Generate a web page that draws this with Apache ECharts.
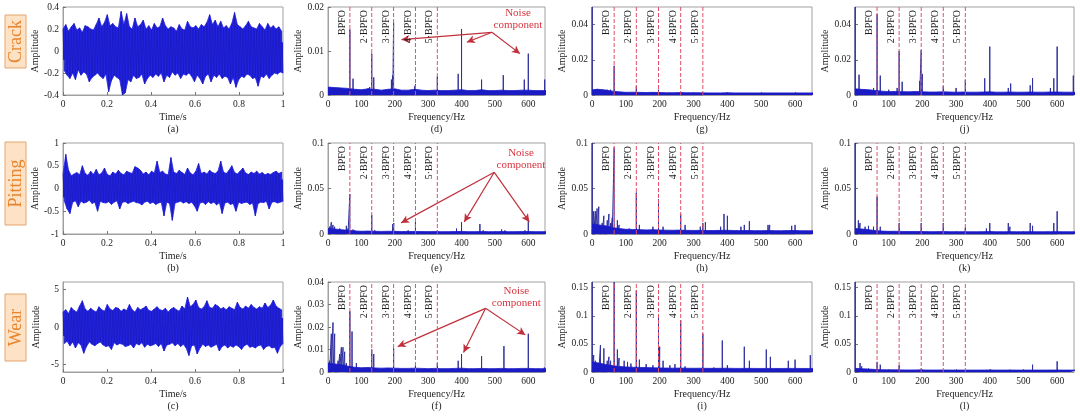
<!DOCTYPE html>
<html>
<head>
<meta charset="utf-8">
<script src="https://cdn.jsdelivr.net/npm/echarts@6.0.0/dist/echarts.min.js"></script>
<style>
html, body { margin: 0; padding: 0; background: #fff; }
#main { width: 1080px; height: 417px; }
</style>
</head>
<body>
<div id="main"></div>
<script>
// ---------- values ----------
var rowNames = ['Crack', 'Pitting', 'Wear'];
var captions = [['(a)', '(d)', '(g)', '(j)'], ['(b)', '(e)', '(h)', '(k)'], ['(c)', '(f)', '(i)', '(l)']];
var bpfo = [65.5, 131, 196.5, 262, 327.5];
var bpfoNames = ['BPFO', '2·BPFO', '3·BPFO', '4·BPFO', '5·BPFO'];
var timeTicks = [0, 0.2, 0.4, 0.6, 0.8, 1];
var freqTicks = [0, 100, 200, 300, 400, 500, 600];
var floorStep = 20; // Hz between noise floor samples

// time signals, alternating upper / lower peaks over 0..1 s
var sigCrack = [
 .20,-.18,.24,-.22,.18,-.25,.22,-.20,.25,-.26,.19,-.17,.21,-.22,.17,-.19,.23,-.21,.22,-.28,
 .20,-.24,.19,-.22,.24,-.20,.30,-.23,.22,-.25,.26,-.21,.33,-.37,.23,-.27,.25,-.22,.22,-.24,
 .21,-.26,.36,-.40,.24,-.38,.34,-.26,.22,-.28,.20,-.22,.30,-.25,.22,-.24,.24,-.21,.28,-.30,
 .20,-.25,.23,-.22,.19,-.24,.25,-.21,.21,-.23,.22,-.20,.30,-.28,.23,-.22,.20,-.24,.22,-.19,
 .21,-.22,.18,-.20,.24,-.25,.20,-.21,.19,-.22,.27,-.20,.22,-.23,.21,-.28,.23,-.22,.20,-.25,
 .24,-.30,.22,-.23,.26,-.21,.33,-.28,.24,-.22,.28,-.24,.22,-.21,.27,-.25,.21,-.23,.23,-.24,
 .20,-.30,.25,-.24,.35,-.33,.24,-.26,.22,-.23,.20,-.24,.23,-.21,.27,-.22,.22,-.25,.21,-.24,
 .20,-.32,.25,-.23,.22,-.24,.19,-.21,.25,-.25,.21,-.22,.23,-.20,.20,-.21,.22,-.19,.18,-.20
];
var sigPitting = [
 .30,-.28,.75,-.45,.40,-.55,.28,-.30,.32,-.27,.35,-.40,.30,-.28,.50,-.32,.33,-.30,.29,-.26,
 .38,-.33,.31,-.30,.42,-.50,.30,-.28,.34,-.31,.45,-.32,.31,-.29,.28,-.35,.36,-.30,.32,-.27,
 .40,-.45,.33,-.30,.30,-.29,.38,-.33,.35,-.30,.33,-.28,.48,-.31,.45,-.32,.40,-.36,.32,-.30,
 .36,-.28,.30,-.33,.38,-.30,.34,-.35,.60,-.32,.35,-.30,.38,-.60,.32,-.30,.30,-.33,.68,-.70,
 .36,-.32,.33,-.30,.40,-.28,.35,-.32,.31,-.29,.45,-.33,.34,-.30,.30,-.38,.38,-.50,.55,-.32,
 .33,-.30,.36,-.35,.32,-.29,.40,-.33,.35,-.30,.33,-.36,.38,-.31,.60,-.55,.36,-.32,.33,-.30,
 .40,-.35,.50,-.33,.35,-.50,.32,-.30,.38,-.33,.45,-.31,.34,-.30,.31,-.35,.36,-.32,.33,-.60,
 .38,-.33,.32,-.30,.35,-.31,.30,-.28,.33,-.45,.31,-.30,.35,-.29,.38,-.32,.33,-.30,.36,-.28
];
var sigWear = [
 2.0,-2.2,2.3,-1.9,1.8,-2.5,2.6,-2.0,2.2,-2.8,2.0,-2.1,2.8,-2.4,3.5,-3.5,2.4,-2.6,2.1,-2.0,
 2.5,-2.3,2.2,-2.5,2.0,-2.2,2.7,-2.0,2.3,-2.4,2.1,-2.6,3.0,-2.5,2.4,-3.0,2.2,-2.1,2.6,-2.4,
 2.5,-2.2,2.1,-2.3,2.4,-2.6,2.2,-2.5,3.0,-2.3,2.3,-2.8,2.0,-2.2,2.6,-2.4,2.3,-2.1,2.5,-2.7,
 2.8,-2.3,2.2,-2.5,2.1,-2.4,2.4,-2.2,2.7,-2.6,2.3,-2.2,2.2,-3.2,2.5,-2.4,2.0,-2.3,2.4,-2.1,
 2.6,-2.5,2.3,-2.2,2.1,-2.6,2.8,-2.3,2.4,-2.8,4.0,-3.8,2.7,-2.5,3.0,-2.4,3.6,-3.6,2.6,-2.8,
 2.4,-2.3,2.7,-2.6,3.5,-2.4,2.6,-2.7,2.5,-2.5,3.0,-2.3,2.8,-3.2,2.4,-2.6,2.6,-2.4,2.3,-2.8,
 2.7,-2.5,2.5,-2.7,2.3,-2.4,3.3,-2.6,2.6,-3.0,2.4,-2.5,2.8,-2.3,2.5,-2.7,3.0,-2.6,2.6,-2.8,
 2.4,-2.5,2.7,-2.4,2.5,-3.0,3.2,-2.6,2.6,-2.5,2.9,-2.8,3.6,-2.7,2.8,-3.5,2.5,-2.6,2.3,-2.2
];

// spectra: noise floor (every 20 Hz from 0 to 660 Hz) and spectral lines [Hz, amplitude]
var floorD = [0.0018,0.0017,0.0016,0.0015,0.0013,0.0012,0.0014,0.0013,0.0011,0.0013,0.0014,0.0011,0.0011,0.0013,0.0011,0.0010,0.0011,
              0.0010,0.0010,0.0011,0.0012,0.0010,0.0010,0.0012,0.0010,0.0010,0.0011,0.0010,0.0010,0.0011,0.0011,0.0010,0.0010,0.0010];
var linesD = [[65.5,0.0149],[75,0.0037],[120,0.0015],[125,0.0018],[131,0.0094],[137,0.0040],[190,0.0035],[194,0.0045],[196.5,0.0163],
              [260,0.0020],[262,0.0025],[327.5,0.0042],[390,0.0048],[400,0.0150],[460,0.0035],[525,0.0045],[588,0.0035],[600,0.0094],[649,0.0035]];
var floorG = [0.0030,0.0032,0.0028,0.0022,0.0018,0.0015,0.0016,0.0015,0.0014,0.0015,0.0014,0.0013,0.0013,0.0014,0.0013,0.0013,0.0013,
              0.0012,0.0012,0.0012,0.0013,0.0012,0.0012,0.0012,0.0012,0.0012,0.0012,0.0012,0.0012,0.0012,0.0012,0.0012,0.0012,0.0012];
var linesG = [[0.5,0.05],[15,0.0035],[30,0.003],[45,0.003],[55,0.003],[65.5,0.0166],[131,0.005],[196.5,0.003],[262,0.0016],[327.5,0.0012]];
var floorJ = [0.0035,0.0032,0.0030,0.0026,0.0022,0.0019,0.0020,0.0019,0.0018,0.0020,0.0018,0.0017,0.0017,0.0018,0.0017,0.0016,0.0017,
              0.0016,0.0016,0.0017,0.0018,0.0016,0.0016,0.0017,0.0016,0.0016,0.0017,0.0016,0.0016,0.0017,0.0017,0.0016,0.0016,0.0016];
var linesJ = [[0.5,0.05],[12,0.0115],[55,0.004],[65.5,0.046],[75,0.011],[100,0.003],[125,0.004],[131,0.025],[140,0.0075],[192,0.008],
              [196.5,0.0255],[200,0.012],[262,0.005],[300,0.004],[327.5,0.0085],[385,0.0095],[400,0.0275],[455,0.004],[462,0.0065],
              [520,0.0055],[527,0.0095],[580,0.004],[590,0.0095],[600,0.0275],[648,0.011]];
var floorE = [0.0060,0.0055,0.0048,0.0040,0.0034,0.0030,0.0032,0.0030,0.0028,0.0030,0.0029,0.0027,0.0027,0.0028,0.0027,0.0026,0.0027,
              0.0026,0.0026,0.0027,0.0028,0.0026,0.0026,0.0027,0.0026,0.0026,0.0027,0.0026,0.0026,0.0027,0.0027,0.0026,0.0026,0.0026];
var linesE = [[5,0.008],[10,0.013],[15,0.010],[20,0.008],[35,0.006],[55,0.009],[60,0.006],[65.5,0.044],[75,0.005],[80,0.004],[131,0.021],
              [140,0.004],[194,0.011],[197,0.012],[240,0.004],[262,0.013],[327.5,0.004],[385,0.006],[400,0.013],[455,0.011],[465,0.004],
              [520,0.005],[530,0.004],[590,0.004],[600,0.014]];
var floorH = [0.0110,0.0100,0.0090,0.0072,0.0060,0.0052,0.0050,0.0048,0.0045,0.0047,0.0044,0.0042,0.0041,0.0043,0.0040,0.0039,0.0040,
              0.0038,0.0038,0.0040,0.0041,0.0038,0.0037,0.0039,0.0037,0.0037,0.0038,0.0037,0.0036,0.0038,0.0038,0.0036,0.0036,0.0036];
var linesH = [[0.5,0.1],[5,0.025],[10,0.025],[15,0.028],[20,0.03],[30,0.012],[35,0.02],[45,0.015],[50,0.022],[55,0.012],[60,0.018],
              [65.5,0.095],[75,0.015],[80,0.01],[110,0.006],[131,0.0455],[140,0.01],[180,0.008],[196.5,0.038],[210,0.008],[262,0.022],
              [275,0.01],[320,0.008],[327.5,0.012],[335,0.013],[380,0.008],[390,0.022],[400,0.02],[440,0.008],[450,0.01],[465,0.014],
              [520,0.01],[525,0.01],[590,0.009],[600,0.01]];
var floorK = [0.0060,0.0055,0.0048,0.0038,0.0032,0.0029,0.0030,0.0028,0.0027,0.0028,0.0027,0.0026,0.0026,0.0027,0.0026,0.0025,0.0026,
              0.0025,0.0025,0.0026,0.0027,0.0025,0.0025,0.0026,0.0025,0.0025,0.0026,0.0025,0.0025,0.0026,0.0026,0.0025,0.0025,0.0025];
var linesK = [[0.5,0.1],[10,0.015],[15,0.012],[30,0.008],[40,0.009],[55,0.008],[65.5,0.041],[75,0.008],[131,0.012],[196.5,0.012],
              [262,0.012],[327.5,0.007],[390,0.006],[400,0.012],[455,0.012],[460,0.008],[520,0.012],[527,0.009],[590,0.012],[600,0.025]];
var floorF = [0.0040,0.0036,0.0032,0.0026,0.0021,0.0019,0.0020,0.0018,0.0017,0.0018,0.0017,0.0016,0.0016,0.0017,0.0016,0.0015,0.0016,
              0.0015,0.0015,0.0016,0.0017,0.0015,0.0015,0.0016,0.0015,0.0015,0.0016,0.0015,0.0015,0.0016,0.0016,0.0015,0.0015,0.0015];
var linesF = [[5,0.005],[10,0.017],[15,0.022],[20,0.017],[30,0.005],[35,0.008],[40,0.011],[45,0.011],[50,0.009],[55,0.004],[65.5,0.027],
              [72,0.018],[85,0.004],[131,0.010],[137,0.008],[196.5,0.0105],[262,0.003],[327.5,0.004],[390,0.005],[400,0.008],[460,0.007],
              [527,0.0115],[600,0.017],[648,0.002]];
var floorI = [0.0180,0.0160,0.0135,0.0115,0.0100,0.0090,0.0085,0.0082,0.0078,0.0075,0.0072,0.0070,0.0068,0.0070,0.0067,0.0066,0.0067,
              0.0065,0.0065,0.0066,0.0067,0.0064,0.0064,0.0065,0.0064,0.0063,0.0064,0.0063,0.0063,0.0064,0.0064,0.0063,0.0063,0.0063];
var linesI = [[0.5,0.16],[5,0.03],[10,0.02],[20,0.015],[25,0.048],[35,0.042],[45,0.02],[50,0.027],[55,0.02],[65.5,0.16],[75,0.04],
              [80,0.025],[95,0.02],[105,0.018],[115,0.015],[131,0.145],[140,0.022],[160,0.014],[180,0.012],[196.5,0.098],[200,0.045],
              [210,0.02],[230,0.012],[245,0.014],[262,0.092],[275,0.01],[327.5,0.068],[360,0.008],[385,0.056],[400,0.012],[450,0.045],
              [465,0.02],[515,0.04],[527,0.027],[580,0.02],[600,0.022],[645,0.03]];
var floorL = [0.0065,0.0058,0.0052,0.0045,0.0041,0.0038,0.0039,0.0037,0.0036,0.0037,0.0036,0.0035,0.0035,0.0036,0.0035,0.0034,0.0035,
              0.0034,0.0034,0.0035,0.0036,0.0034,0.0034,0.0035,0.0034,0.0034,0.0035,0.0034,0.0034,0.0035,0.0035,0.0034,0.0034,0.0034];
var linesL = [[0.5,0.16],[15,0.016],[20,0.01],[40,0.006],[65.5,0.018],[75,0.013],[131,0.012],[190,0.004],[196.5,0.006],[262,0.002],
              [400,0.004],[460,0.004],[527,0.013],[600,0.019]];

// "Noise component" call-outs: label point, arrow start, arrow ends [Hz, amplitude]
var noiseTextD = [569, 0.0172], noiseFromD = [491, 0.01425], noiseToD = [[220, 0.0126], [416, 0.0120], [575, 0.0094]];
var noiseTextE = [578, 0.082],  noiseFromE = [498, 0.0678],  noiseToE = [[219, 0.0122], [408, 0.0133], [603, 0.0133]];
var noiseTextF = [564, 0.0335], noiseFromF = [472, 0.0283],  noiseToF = [[209, 0.0113], [406, 0.0087], [591, 0.0165]];

// y ranges / tick labels per panel
var yCrack = [-0.4, 0.4, [-0.4, -0.2, 0, 0.2, 0.4]];
var yPitting = [-1, 1, [-1, -0.5, 0, 0.5, 1]];
var yWear = [-6, 6, [-5, 0, 5]];
var yD = [0, 0.02, [0, 0.01, 0.02]];
var yGJ = [0, 0.05, [0, 0.02, 0.04]];
var yEHK = [0, 0.1, [0, 0.05, 0.1]];
var yF = [0, 0.04, [0, 0.01, 0.02, 0.03, 0.04]];
var yIL = [0, 0.16, [0, 0.05, 0.1, 0.15]];

var panels = [
  {row: 0, col: 0, y: yCrack, sig: sigCrack},
  {row: 0, col: 1, y: yD, floor: floorD, lines: linesD, noise: [noiseTextD, noiseFromD, noiseToD]},
  {row: 0, col: 2, y: yGJ, floor: floorG, lines: linesG},
  {row: 0, col: 3, y: yGJ, floor: floorJ, lines: linesJ},
  {row: 1, col: 0, y: yPitting, sig: sigPitting},
  {row: 1, col: 1, y: yEHK, floor: floorE, lines: linesE, noise: [noiseTextE, noiseFromE, noiseToE]},
  {row: 1, col: 2, y: yEHK, floor: floorH, lines: linesH},
  {row: 1, col: 3, y: yEHK, floor: floorK, lines: linesK},
  {row: 2, col: 0, y: yWear, sig: sigWear},
  {row: 2, col: 1, y: yF, floor: floorF, lines: linesF, noise: [noiseTextF, noiseFromF, noiseToF]},
  {row: 2, col: 2, y: yIL, floor: floorI, lines: linesI},
  {row: 2, col: 3, y: yIL, floor: floorL, lines: linesL}
];

// ---------- layout ----------
var colLeft = [63, 328, 592, 855];
var colWidth = [220, 217, 220, 219];
var rowTop = [7, 143, 282];
var rowHeight = [88, 91, 90];
var serif = '"Liberation Serif", "Times New Roman", serif';
var textColor = '#1c1c1c';
var dashRed = '#e2506c';

var grids = [], xAxes = [], yAxes = [], series = [], graphics = [];

panels.forEach(function (p, k) {
  var isTime = !!p.sig;
  grids.push({
    left: colLeft[p.col], top: rowTop[p.row], width: colWidth[p.col], height: rowHeight[p.row],
    show: true, borderColor: '#a0a0a0', borderWidth: 1, backgroundColor: '#fff'
  });
  var ticks = isTime ? timeTicks : freqTicks;
  xAxes.push({
    type: 'value', gridIndex: k, min: 0, max: isTime ? 1 : 650,
    name: isTime ? 'Time/s' : 'Frequency/Hz', nameLocation: 'middle', nameGap: 17,
    nameTextStyle: {fontFamily: serif, fontSize: 10, color: textColor},
    axisLine: {show: true, onZero: false, lineStyle: {color: '#a0a0a0'}},
    axisTick: {show: true, inside: true, length: 3, customValues: ticks, lineStyle: {color: '#777'}},
    axisLabel: {customValues: ticks, fontFamily: serif, fontSize: 9.5, color: textColor, margin: 4},
    splitLine: {show: false}
  });
  yAxes.push({
    type: 'value', gridIndex: k, min: p.y[0], max: p.y[1],
    name: 'Amplitude', nameLocation: 'middle', nameGap: isTime ? 22 : 20, nameRotate: 90,
    nameTextStyle: {fontFamily: serif, fontSize: 10, color: textColor},
    axisLine: {show: true, onZero: false, lineStyle: {color: '#a0a0a0'}},
    axisTick: {show: true, inside: true, length: 3, customValues: p.y[2], lineStyle: {color: '#777'}},
    axisLabel: {customValues: p.y[2], fontFamily: serif, fontSize: 9.5, color: textColor, margin: 4},
    splitLine: {show: false}
  });

  if (isTime) {
    var n = p.sig.length;
    var pts = p.sig.map(function (v, i) { return [i / (n - 1), v]; });
    // solid band between the upper and the lower peaks (overlapping a little at 0), raw trace on top
    [0, 1].forEach(function (side) {
      series.push({
        type: 'line', xAxisIndex: k, yAxisIndex: k, showSymbol: false, silent: true,
        lineStyle: {color: '#2323e4', width: 0.8},
        areaStyle: {color: '#2323e4', opacity: 1, origin: side === 0 ? p.y[0] * 0.2 : p.y[1] * 0.2},
        data: pts.filter(function (d, i) { return i % 2 === side; })
      });
    });
    series.push({
      type: 'line', xAxisIndex: k, yAxisIndex: k, showSymbol: false, silent: true,
      lineStyle: {color: '#1a1ab4', width: 0.6},
      data: pts
    });
  } else {
    var spikes = [];
    p.lines.forEach(function (l) { spikes.push([l[0], 0], [l[0], l[1]], [l[0], 0]); });
    var spikeSeries = {
      type: 'line', xAxisIndex: k, yAxisIndex: k, showSymbol: false, silent: true, z: 3,
      lineStyle: {color: '#30309e', width: 1},
      data: spikes
    };
    if (p.noise) {
      spikeSeries.markLine = {
        silent: true, symbol: ['none', 'arrow'], symbolSize: [6, 8],
        lineStyle: {color: '#c0303c', width: 1.2, type: 'solid'},
        label: {show: false},
        data: p.noise[2].map(function (e) {
          return [{coord: p.noise[1], lineStyle: {color: '#c0303c'}}, {coord: e}];
        })
      };
      spikeSeries.markPoint = {
        silent: true, symbol: 'circle', symbolSize: 1, itemStyle: {color: 'rgba(0,0,0,0)'},
        label: {show: true, position: 'inside', formatter: 'Noise\ncomponent', color: '#d9353f',
                fontFamily: serif, fontSize: 11, lineHeight: 12, align: 'center'},
        data: [{coord: p.noise[0]}]
      };
    }
    series.push(spikeSeries);
    series.push({
      type: 'line', xAxisIndex: k, yAxisIndex: k, showSymbol: false, silent: true, z: 4,
      lineStyle: {color: '#1b1bc6', width: 0.8},
      areaStyle: {color: '#1b1bc6', opacity: 1},
      data: p.floor.map(function (v, i) { return [i * floorStep, v]; })
    });
    // dashed harmonic lines with their names, written upwards just left of each line
    bpfo.forEach(function (f, i) {
      series.push({
        type: 'line', xAxisIndex: k, yAxisIndex: k, showSymbol: false, silent: true, z: 5,
        lineStyle: {color: dashRed, width: 1, type: [4, 2]},
        data: [[f, p.y[0]], [f, p.y[1]]],
        markPoint: {
          silent: true, symbol: 'circle', symbolSize: 0, itemStyle: {color: 'rgba(0,0,0,0)'},
          label: {show: true, formatter: bpfoNames[i], position: [-2.5, 3], rotate: 90,
                  align: 'right', verticalAlign: 'bottom',
                  fontFamily: serif, fontSize: 10, color: textColor},
          data: [{coord: [f, p.y[1]]}]
        }
      });
    });
  }

  graphics.push({
    type: 'text', x: colLeft[p.col] + colWidth[p.col] / 2, y: rowTop[p.row] + rowHeight[p.row] + 34,
    style: {text: captions[p.row][p.col], font: '10px ' + serif, fill: textColor,
            align: 'center', verticalAlign: 'middle', textAlign: 'center', textVerticalAlign: 'middle'}
  });
});

// orange row labels on the left
var boxTop = [15, 142, 294];
var boxHeight = [53, 83, 67];
rowNames.forEach(function (name, r) {
  graphics.push({
    type: 'rect', shape: {x: 5, y: boxTop[r], width: 21, height: boxHeight[r]},
    style: {fill: '#fde2c6', stroke: '#e6a46a', lineWidth: 1}
  });
  graphics.push({
    type: 'text', x: 16, y: boxTop[r] + boxHeight[r] / 2, rotation: Math.PI / 2,
    style: {text: name, font: '18px ' + serif, fill: '#e8842c',
            align: 'center', verticalAlign: 'middle', textAlign: 'center', textVerticalAlign: 'middle'}
  });
});

var chart = echarts.init(document.getElementById('main'), null, {renderer: 'canvas'});
chart.setOption({
  backgroundColor: '#fff',
  animation: false,
  grid: grids,
  xAxis: xAxes,
  yAxis: yAxes,
  series: series,
  graphic: graphics
});
</script>
</body>
</html>
